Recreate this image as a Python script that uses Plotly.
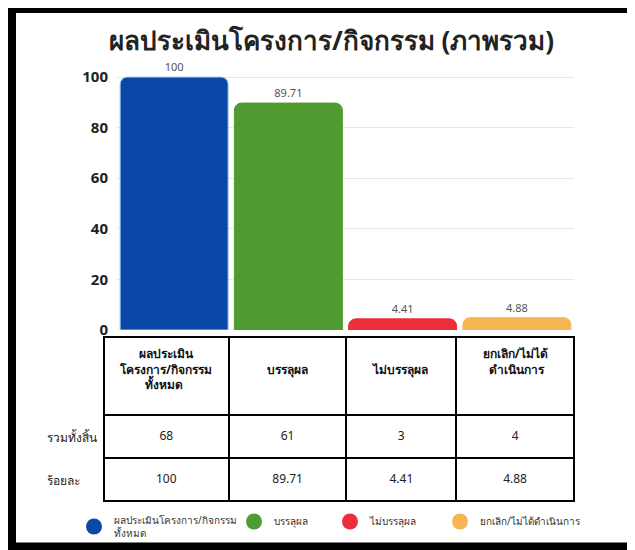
import plotly.graph_objects as go

# Page has an 8px body margin; figure is sized so it fills the 635x550 window.
OFF = 8
W, H = 635 - OFF, 550 - OFF

categories = ["ผลประเมินโครงการ/กิจกรรม<br>ทั้งหมด", "บรรลุผล", "ไม่บรรลุผล", "ยกเลิก/ไม่ได้ดำเนินการ"]
percent_values = [100, 89.71, 4.41, 4.88]
count_values = [68, 61, 3, 4]
bar_labels = ["100", "89.71", "4.41", "4.88"]
NB = "\u00a0"
header_labels = [NB * 6 + "ผลประเมิน<br>โครงการ/กิจกรรม<br>" + NB * 8 + "ทั้งหมด",
                 NB + "<br>บรรลุผล", NB + "<br>ไม่บรรลุผล",
                 "ยกเลิก/ไม่ได้<br>" + NB * 2 + "ดำเนินการ"]
row_labels = ["รวมทั้งสิ้น", "ร้อยละ"]
y_ticks = [0, 20, 40, 60, 80, 100]
colors = ["#0a47a6", "#4f9b32", "#ec2d3a", "#f6b752"]
legend_left_px = [74, 234, 330, 440]

FONT = "Noto Sans, sans-serif"
SPACER = "<span style='font-size:1px'>\u00a0</span><br>"

def px_x(p):
    return (p - OFF) / W

def px_y(p):
    return 1 - (p - OFF) / H

fig = go.Figure()
for i, cat in enumerate(categories):
    fig.add_trace(go.Bar(
        x=[i], y=[percent_values[i]], name=cat, showlegend=False,
        marker=dict(color=colors[i], cornerradius=7,
                    line=dict(color="#9fcaf2" if i == 0 else colors[i], width=1)),
        text=[bar_labels[i]], textposition="outside",
        textfont=dict(size=11, color="#555", family=FONT),
        cliponaxis=False, width=0.945,
    ))

legend_names = ["legend", "legend2", "legend3", "legend4"]
# legend entries with round markers
for i, cat in enumerate(categories):
    fig.add_trace(go.Scatter(
        x=[None], y=[None], mode="markers", name=cat, legend=legend_names[i],
        marker=dict(color=colors[i], size=16, symbol="circle"),
    ))

fig.add_trace(go.Table(
    domain=dict(x=[px_x(104), px_x(575)], y=[px_y(503), px_y(337)]),
    columnwidth=[125, 118, 110, 118],
    header=dict(values=header_labels, height=78, align="center",
                fill_color="white", line=dict(color="black", width=2),
                font=dict(size=12, color="#111", family=FONT, weight="bold")),
    cells=dict(values=[[SPACER + str(count_values[i]), SPACER + bar_labels[i]] for i in range(4)],
               height=43, align="center", fill_color="white",
               line=dict(color="black", width=2),
               font=dict(size=12, color="#222", family=FONT)),
))

annotations = [
    dict(text="ผลประเมินโครงการ/กิจกรรม (ภาพรวม)", x=px_x(331), y=px_y(40),
         xref="paper", yref="paper", showarrow=False, xanchor="center", yanchor="middle",
         font=dict(size=26, color="#222", family=FONT, weight="bold")),
]
for lbl, yy in zip(row_labels, [437, 480]):
    annotations.append(dict(text=lbl, x=px_x(45), y=px_y(yy), xref="paper", yref="paper",
                            xanchor="left", yanchor="middle", showarrow=False,
                            font=dict(size=12, color="#222", family=FONT)))

legend_layouts = {}
for name, lx in zip(legend_names, legend_left_px):
    legend_layouts[name] = dict(
        orientation="h", x=px_x(lx), y=px_y(507), xanchor="left", yanchor="top",
        font=dict(size=10, color="#333", family=FONT), itemwidth=30,
        itemsizing="trace", bgcolor="rgba(0,0,0,0)")

fig.update_layout(
    width=W, height=H,
    margin=dict(l=0, r=0, t=0, b=0, autoexpand=False),
    paper_bgcolor="white", plot_bgcolor="white",
    barmode="overlay",
    xaxis=dict(domain=[px_x(117), px_x(574)], range=[-0.5, 3.5], automargin=False,
               showticklabels=False, showgrid=False, zeroline=False, fixedrange=True),
    yaxis=dict(domain=[px_y(330), px_y(72)], range=[0, 102], automargin=False,
               tickvals=y_ticks, ticks="", showgrid=True, gridcolor="#e8e8e8",
               gridwidth=1, zeroline=False, ticklabelstandoff=8,
               tickfont=dict(size=15, color="#222", family="Open Sans", weight="bold")),
    annotations=annotations,
    shapes=[dict(type="rect", xref="paper", yref="paper",
                 x0=px_x(12), x1=px_x(631.5), y0=px_y(546.5), y1=px_y(9),
                 line=dict(color="black", width=8))],
    showlegend=True,
    **legend_layouts,
)

fig.write_html("out.html")
